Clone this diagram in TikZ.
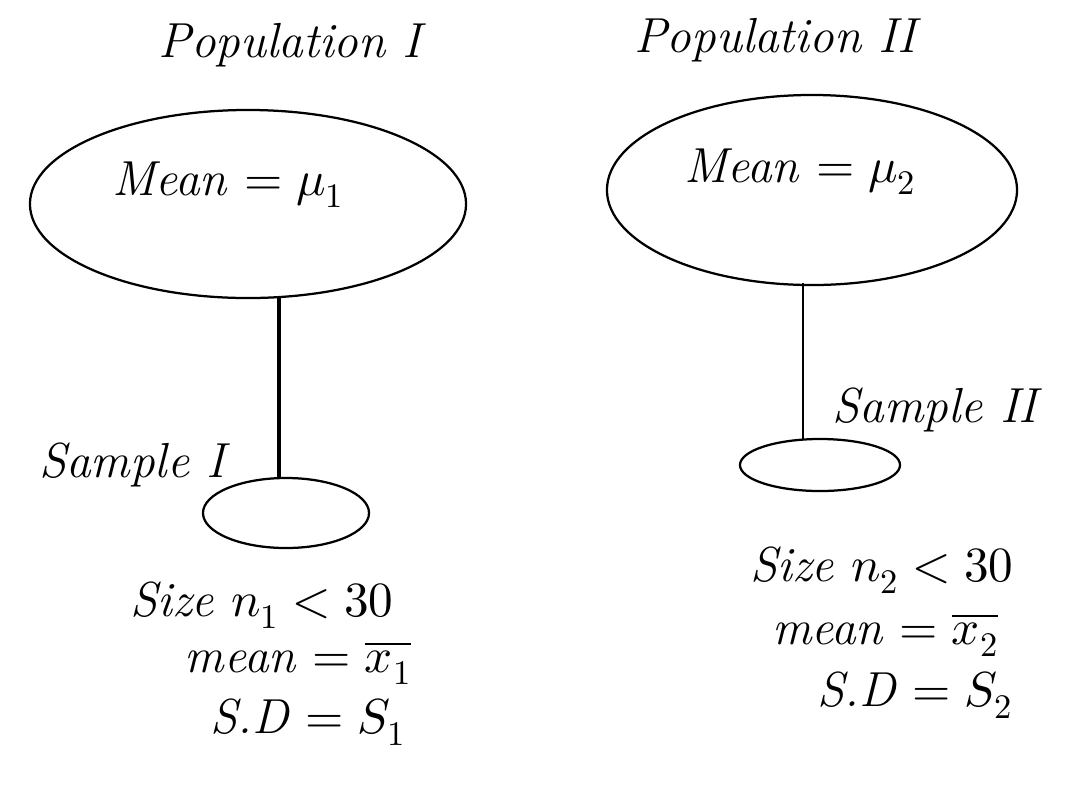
\documentclass[tikz,border=0pt]{standalone}
\usepackage{unicode-math}
\setmathfont{Latin Modern Math}
\usetikzlibrary{shapes.geometric}
\begin{document}
\begin{tikzpicture}[x=0.025cm,y=-0.025cm,
  hand/.style={font=\fontsize{35}{39}\selectfont\itshape, inner sep=0pt},
  blob/.style={draw, ellipse, line width=1.6pt, inner sep=0pt},
  link/.style={line width=1.6pt}]
\useasboundingbox (0,0) rectangle (1065,785);
% populations
\node[hand] (t1) at (290,45) {Population I};
\node[hand] (t2) at (775,40) {Population II};
\node[blob, minimum width=10.9cm, minimum height=4.7cm] (pop1) at (248,204) {};
\node[blob, minimum width=10.25cm, minimum height=4.75cm] (pop2) at (812,190) {};
\node[hand] (m1) at (228,185) {Mean $=\mu_1$};
\node[hand] (m2) at (800,172) {Mean $=\mu_2$};
% samples
\node[blob, minimum width=4.15cm, minimum height=1.75cm] (samp1) at (286,513) {};
\node[blob, minimum width=4.0cm, minimum height=1.3cm] (samp2) at (820,465) {};
\node[hand] (s1) at (132,465) {Sample I};
\node[hand] (s2) at (935,410) {Sample II};
% connectors
\coordinate (c1) at (279,298);
\coordinate (c2) at (803,283);
\draw[line width=2.6pt] (c1) -- (c1 |- samp1.north);
\draw[link] (c2) -- (803,440);
% statistics
\node[hand] (z1) at (262,605) {Size $n_1<30$};
\node[hand] (x1) at (298,663) {mean $=\overline{x_1}$};
\node[hand] (d1) at (308,722) {S.D $=S_1$};
\node[hand] (z2) at (882,570) {Size $n_2<30$};
\node[hand] (x2) at (885,635) {mean $=\overline{x_2}$};
\node[hand] (d2) at (915,695) {S.D $=S_2$};
\end{tikzpicture}
\end{document}
